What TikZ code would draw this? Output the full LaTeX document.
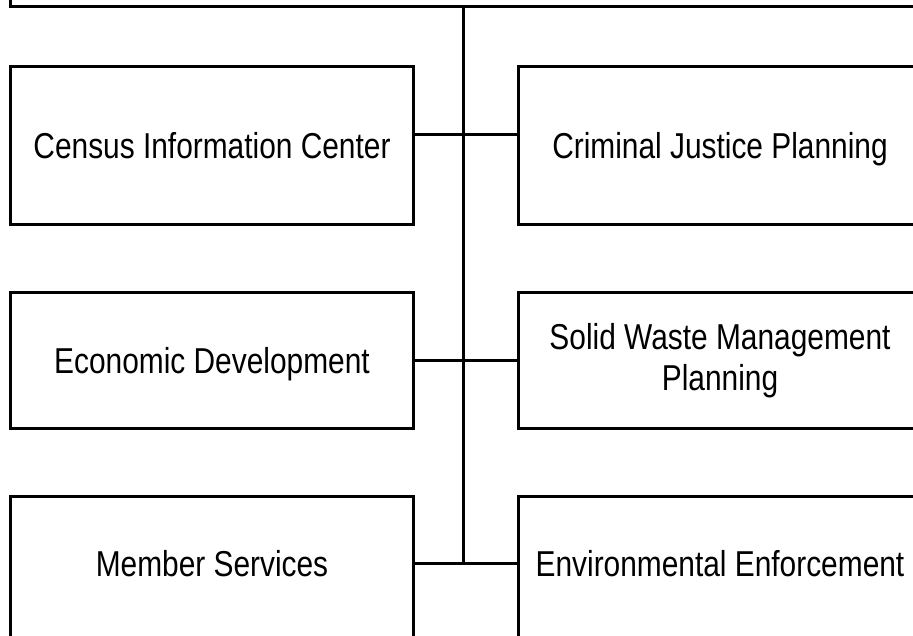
\documentclass[tikz,border=0pt]{standalone}
\usepackage{fontspec}
\setmainfont{Liberation Sans}[FakeStretch=0.83]
\begin{document}
\begin{tikzpicture}[x=1pt,y=-1pt,
  unitfont/.style={font=\fontsize{36}{41}\selectfont},
  oneline/.style={text height=31pt,text depth=5pt},
  unitbox/.style={draw=black,line width=3pt,rectangle,inner sep=0pt,
    minimum width=403pt,align=center,unitfont},
  unitlabel/.style={inner sep=0pt,align=center,unitfont,oneline},
  wire/.style={draw=black,line width=3pt}]
\useasboundingbox (0,0) rectangle (913,635);
\clip (0,0) rectangle (913,635);

% head box, mostly above the page
\node[unitbox,minimum width=906pt,minimum height=113pt] (head) at (463.5,-50) {};

% first row
\node[unitbox,oneline,minimum height=158pt] (cic) at (212,145.5) {Census Information Center};
\node[unitbox,oneline,minimum height=158pt] (cjp) at (720,145.5) {Criminal Justice Planning};

% second row
\node[unitbox,oneline,minimum height=135.5pt] (ecd) at (212,360.25) {Economic Development};
\node[unitbox,minimum height=135.5pt] (swm) at (720,360.25) {Solid Waste Management\\Planning};

% third row, running off the page
\node[unitbox,minimum height=160pt] (mbs) at (212,576) {};
\node[unitbox,minimum height=160pt] (env) at (720,576) {};
\node[unitlabel] (mbslbl) at (212,563) {Member Services};
\node[unitlabel] (envlbl) at (720,563) {Environmental Enforcement};

% trunk and branches
\coordinate (j1) at (463.5,134);
\coordinate (j2) at (463.5,360);
\coordinate (j3) at (463.5,563);
\draw[wire] (head.south) -- (j3);
\draw[wire] (cic.east |- j1) -- (cjp.west |- j1);
\draw[wire] (ecd.east |- j2) -- (swm.west |- j2);
\draw[wire] (mbs.east |- j3) -- (env.west |- j3);
\end{tikzpicture}
\end{document}
